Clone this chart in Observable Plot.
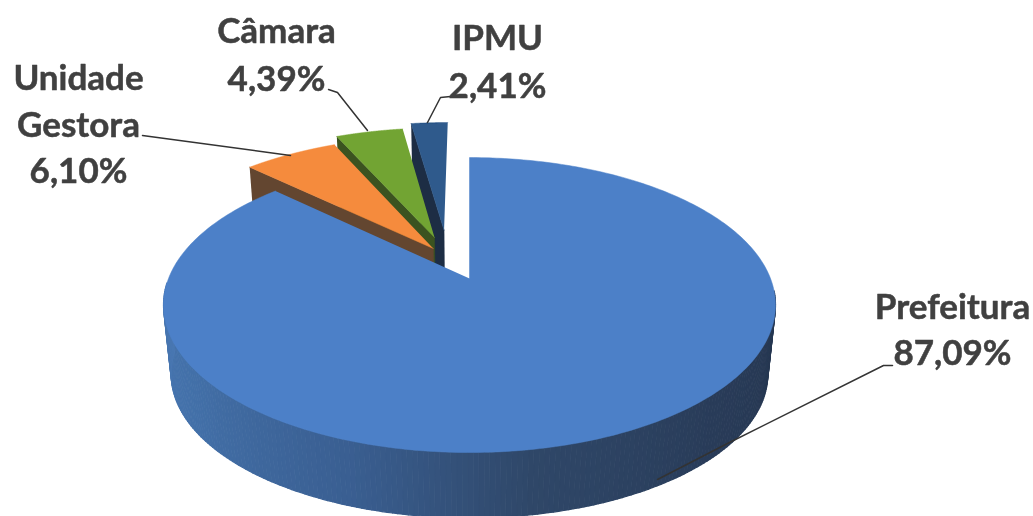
<!DOCTYPE html>
<html>
<head>
<meta charset="utf-8">
<script src="https://cdn.jsdelivr.net/npm/d3@7"></script>
<script src="https://cdn.jsdelivr.net/npm/@observablehq/plot@0.6"></script>
<style>
html,body{margin:0;padding:0;background:#fff;overflow:hidden}
svg{display:block;filter:blur(.6px)}
</style>
</head>
<body>
<div id="chart"></div>
<script>
// Data
const categories = ["Prefeitura", "Unidade Gestora", "Câmara", "IPMU"];
const shares = [87.09, 6.10, 4.39, 2.41];
const labels = [["Prefeitura", "87,09%"], ["Unidade", "Gestora", "6,10%"], ["Câmara", "4,39%"], ["IPMU", "2,41%"]];

// Presentation of the 3-D pie (disc offset of each exploded slice, in radii)
const offsetU = [0, -0.125, -0.1226, -0.09];
const offsetV = [0, 0.2185, 0.303, 0.361];
const faceColors = ["#4c80c8", "#f58b3d", "#72a433", "#2f5a8c"];
const wallColors = [null, "#634630", "#3b5320", "#1d2d44"];
const labelY = [[307, 353], [78, 125, 171], [31, 79], [38, 86]];
const labelX = [952, 78, 276, 497];
const leaders = [
  [[892, 365], [883, 365], [727, 443], [657, 479]],
  [[142, 135], [290, 155]],
  [[328, 89], [337, 92], [367, 130]],
  [[450, 96], [440, 97], [427, 122]]
];

// Perspective of the disc plane, and the map from top plane to bottom plane
const X0 = 469, Y0 = 278, B = 301, A = 142.7, K = 0.18;
const project = (u, v) => {
  const w = 1 + K * v;
  return [X0 + B * u / w, Y0 - A * v / w];
};
const lower = ([x, y]) => [X0 + (x - X0) * 0.975, 374 + (y - 305) * 0.975];

const total = d3.sum(shares);
let cum = 0;
const slices = shares.map((s, i) => {
  const a0 = cum / total * 2 * Math.PI;
  cum += s;
  const a1 = cum / total * 2 * Math.PI;
  const du = offsetU[i], dv = offsetV[i];
  const rim = d3.range(0, 361).map(k => {
    const a = a0 + (a1 - a0) * k / 360;
    return {a, p: project(du + Math.sin(a), dv + Math.cos(a))};
  });
  return {i, du, dv, apex: project(du, dv), rim};
});

const toRows = pts => pts.map(([x, y]) => ({x, y}));
const poly = (pts, fill) => Plot.line(toRows(pts), {x: "x", y: "y", fill, stroke: fill, strokeWidth: 0.5, curve: "linear"});

const marks = [];

// Exploded slices, back to front: IPMU, Câmara, Unidade Gestora
[3, 2, 1].forEach(i => {
  const s = slices[i];
  const start = s.rim[0].p;
  marks.push(poly([start, s.apex, lower(s.apex), lower(start)], wallColors[i]));
  marks.push(poly([s.apex, ...s.rim.map(d => d.p)], faceColors[i]));
});

// Prefeitura: outer wall strips (front part only) shaded by angle, then its face
const main = slices[0];
const strips = [];
main.rim.forEach((d, k) => {
  if (k === 0) return;
  const a = main.rim[k - 1], b = d;
  const deg = (a.a + b.a) / 2 * 180 / Math.PI;
  if (deg < 95 || deg > 268) return;
  [a.p, b.p, lower(b.p), lower(a.p)].forEach(([x, y]) => strips.push({x, y, strip: k, deg}));
});
marks.push(Plot.line(strips, {x: "x", y: "y", z: "strip", fill: "deg", stroke: "deg", strokeWidth: 1.2, curve: "linear"}));
marks.push(poly([main.apex, ...main.rim.map(d => d.p)], faceColors[0]));

// Leader lines
leaders.forEach(l => marks.push(Plot.line(toRows(l), {x: "x", y: "y", stroke: "#333", strokeWidth: 1.5, curve: "linear"})));

// Labels
const labelRows = labels.flatMap((ls, i) => ls.map((text, j) => ({text, x: labelX[i], y: labelY[i][j]})));
marks.push(Plot.text(labelRows, {x: "x", y: "y", text: "text", textAnchor: "middle", lineAnchor: "middle",
  fontFamily: "Lato", fontWeight: 700, fontSize: 35, fill: "#404040", stroke: "#404040", strokeWidth: 0.5}));

const chart = Plot.plot({
  width: 1033, height: 516,
  marginTop: 0, marginRight: 0, marginBottom: 0, marginLeft: 0,
  x: {domain: [0, 1033], range: [0, 1033], axis: null},
  y: {domain: [0, 516], range: [0, 516], axis: null},
  color: {type: "linear", domain: [90, 135, 170, 200, 235, 270],
    range: ["#26364f", "#293c59", "#2f4768", "#3a5f92", "#4370a8", "#4a78b3"]},
  style: {background: "#fff"},
  marks
});
document.getElementById("chart").append(chart);
</script>
</body>
</html>
